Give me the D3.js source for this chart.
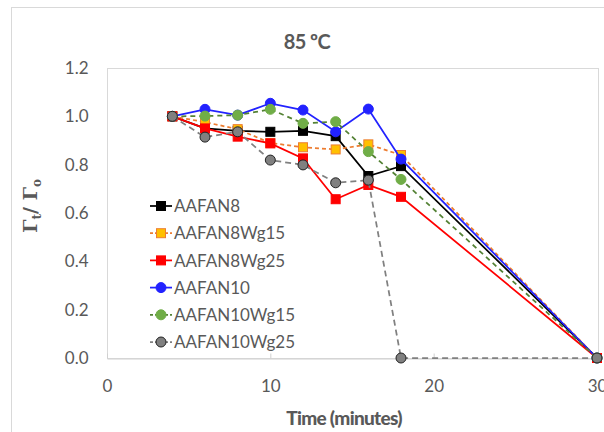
<!DOCTYPE html>
<html><head><meta charset="utf-8">
<script src="https://cdn.jsdelivr.net/npm/d3@7"></script>
<style>html,body{margin:0;padding:0;background:#fff;}svg{display:block;}</style>
</head><body>
<svg id="chart" width="604" height="432"></svg>
<script>
const times = [4, 6, 8, 10, 12, 14, 16, 18, 30];
const aafan8      = [1.00, 0.950, 0.940, 0.936, 0.940, 0.918, 0.753, 0.794, 0];
const aafan8wg15  = [1.00, 0.976, 0.947, 0.890, 0.872, 0.863, 0.884, 0.840, 0];
const aafan8wg25  = [1.00, 0.950, 0.916, 0.888, 0.826, 0.657, 0.716, 0.667, 0];
const aafan10     = [1.00, 1.029, 1.005, 1.054, 1.026, 0.936, 1.030, 0.823, 0];
const aafan10wg15 = [1.00, 1.001, 1.005, 1.029, 0.971, 0.978, 0.854, 0.739, 0];
const aafan10wg25 = [1.00, 0.914, 0.936, 0.819, 0.799, 0.725, 0.736, 0.000, 0];
const seriesNames = ["AAFAN8", "AAFAN8Wg15", "AAFAN8Wg25", "AAFAN10", "AAFAN10Wg15", "AAFAN10Wg25"];
const xTicks = [0, 10, 20, 30];
const yTicks = [0, 0.2, 0.4, 0.6, 0.8, 1.0, 1.2];

const styles = [
  {line: "#000000", dash: null, shape: "square", fill: "#000000", stroke: "#000000"},
  {line: "#ED7D31", dash: "4,3", shape: "square", fill: "#FFC000", stroke: "#ED7D31"},
  {line: "#FF0000", dash: null, shape: "square", fill: "#FF0000", stroke: "#FF0000"},
  {line: "#2222FF", dash: null, shape: "circle", fill: "#2222FF", stroke: "#2222FF"},
  {line: "#548235", dash: "5,4", shape: "circle", fill: "#70AD47", stroke: "#70AD47"},
  {line: "#808080", dash: "6,4", shape: "circle", fill: "#808080", stroke: "#222222"}
];
const allValues = [aafan8, aafan8wg15, aafan8wg25, aafan10, aafan10wg15, aafan10wg25];

const svg = d3.select("#chart");
const font = "Lato, 'Open Sans', sans-serif";
const textColor = "#595959";

// outer chart border
svg.append("rect").attr("x", 11.5).attr("y", 7.5).attr("width", 700).attr("height", 500)
  .attr("fill", "none").attr("stroke", "#D9D9D9");

const x = d3.scaleLinear().domain([0, 30]).range([107, 597]);
const y = d3.scaleLinear().domain([0, 1.2]).range([358, 68]);

// plot area border
svg.append("rect").attr("x", 107.5).attr("y", 68.5).attr("width", 598 - 107).attr("height", 358 - 68)
  .attr("fill", "none").attr("stroke", "#D9D9D9");

// x axis
const xAxis = d3.axisBottom(x).tickValues(xTicks).tickSizeInner(-5).tickSizeOuter(0).tickPadding(0).tickFormat(d3.format("d"));
const gx = svg.append("g").attr("transform", "translate(0,358.5)").call(xAxis);
gx.select(".domain").attr("stroke", "#D0D0D0");
gx.selectAll(".tick line").attr("stroke", "#D0D0D0");
gx.selectAll(".tick text").attr("y", 33).attr("dy", null)
  .attr("font-family", font).attr("font-size", 17).attr("fill", textColor);

// y axis
const yAxis = d3.axisLeft(y).tickValues(yTicks).tickSize(0).tickPadding(19).tickFormat(d3.format(".1f"));
const gy = svg.append("g").attr("transform", "translate(107.5,0)").call(yAxis);
gy.select(".domain").remove();
gy.selectAll(".tick text").attr("font-family", font).attr("font-size", 17).attr("fill", textColor);

// series
const line = d3.line().x(d => x(d[0])).y(d => y(d[1]));
function marker(g, st, cx, cy) {
  if (st.shape === "square") {
    g.append("rect").attr("x", cx - 4.5).attr("y", cy - 4.5).attr("width", 9).attr("height", 9)
      .attr("fill", st.fill).attr("stroke", st.stroke).attr("stroke-width", 1);
  } else {
    g.append("circle").attr("cx", cx).attr("cy", cy).attr("r", 5)
      .attr("fill", st.fill).attr("stroke", st.stroke).attr("stroke-width", 1);
  }
}
allValues.forEach((vals, i) => {
  const st = styles[i];
  const pts = times.map((t, j) => [t, vals[j]]);
  const g = svg.append("g");
  g.append("path").attr("d", line(pts)).attr("fill", "none").attr("stroke", st.line)
    .attr("stroke-width", 1.75).attr("stroke-dasharray", st.dash);
  pts.forEach(p => marker(g, st, x(p[0]), y(p[1])));
});

// legend
const leg = svg.append("g");
seriesNames.forEach((name, i) => {
  const st = styles[i];
  const cy = 206 + i * 27.2;
  leg.append("line").attr("x1", 150).attr("x2", 172).attr("y1", cy).attr("y2", cy)
    .attr("stroke", st.line).attr("stroke-width", 1.75).attr("stroke-dasharray", st.dash ? "3,2" : null);
  marker(leg, st, 161, cy);
  leg.append("text").attr("x", 174).attr("y", cy).attr("dy", "0.36em")
    .attr("font-family", font).attr("font-size", 17).attr("fill", textColor).text(name);
});

// title
const tt = svg.append("text").attr("x", 307).attr("y", 49).attr("text-anchor", "middle")
  .attr("font-family", font).attr("font-weight", "bold").attr("font-size", 20)
  .attr("fill", textColor).attr("letter-spacing", -0.6);
tt.append("tspan").text("85 ");
tt.append("tspan").text("ºC");

// x title
svg.append("text").attr("x", 344).attr("y", 425).attr("text-anchor", "middle")
  .attr("font-family", font).attr("font-weight", "900").attr("font-size", 19)
  .attr("fill", textColor).attr("letter-spacing", -0.7).text("Time (minutes)");

// y title
const yt = svg.append("text").attr("transform", "translate(37,206) rotate(-90)").attr("text-anchor", "middle")
  .attr("font-family", "'DejaVu Serif', 'Liberation Serif', serif").attr("font-weight", "bold")
  .attr("font-size", 19).attr("fill", textColor);
yt.append("tspan").text("Γ");
yt.append("tspan").attr("font-size", 12).attr("dy", 4).text("t");
yt.append("tspan").attr("dy", -4).text("/ Γ");
yt.append("tspan").attr("font-size", 12).attr("dy", 4).text("o");
</script>
</body></html>
